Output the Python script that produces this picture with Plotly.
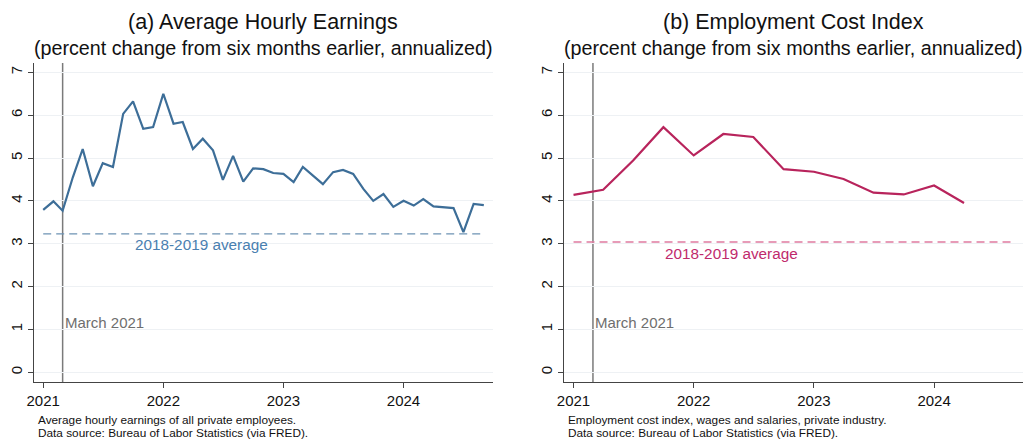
import plotly.graph_objects as go
import pandas as pd

# Average hourly earnings, 6-month annualized % change (monthly, Jan 2021 - Sep 2024)
ahe_months = pd.date_range("2021-01-01", "2024-09-01", freq="MS")
ahe_values = [3.79, 3.99, 3.77, 4.55, 5.21, 4.34, 4.88, 4.79, 6.03, 6.32, 5.68, 5.72,
              6.50, 5.80, 5.84, 5.21, 5.45, 5.18, 4.49, 5.05, 4.45, 4.76, 4.74, 4.65,
              4.63, 4.44, 4.79, 4.59, 4.39, 4.67, 4.72, 4.63, 4.28, 4.00, 4.16, 3.86,
              4.00, 3.89, 4.04, 3.87, 3.85, 3.83, 3.27, 3.93, 3.90]

# Employment cost index, wages & salaries, private industry (quarterly)
eci_quarters = pd.date_range("2021-01-01", "2024-04-01", freq="QS")
eci_values = [4.14, 4.26, 4.94, 5.72, 5.06, 5.56, 5.49, 4.74, 4.68, 4.51, 4.19, 4.15, 4.36, 3.95]

# 2018-2019 averages
ahe_avg = 3.23
eci_avg = 3.04
avg_span = ["2021-01-01", "2024-09-01"]
march_2021 = "2021-03-01"

titles = ["(a) Average Hourly Earnings", "(b) Employment Cost Index"]
subtitle = "(percent change from six months earlier, annualized)"
notes = [["Average hourly earnings of all private employees.",
          "Data source: Bureau of Labor Statistics (via FRED)."],
         ["Employment cost index, wages and salaries, private industry.",
          "Data source: Bureau of Labor Statistics (via FRED)."]]
year_ticks = ["2021-01-01", "2022-01-01", "2023-01-01", "2024-01-01"]
year_labels = ["2021", "2022", "2023", "2024"]
y_ticks = [0, 1, 2, 3, 4, 5, 6, 7]

W, H = 1026, 439
FONT = "Liberation Sans, Arial, Helvetica, sans-serif"

ahe_color = "#3d6e98"
ahe_dash = "#6d93b4"
ahe_text = "#4a80b0"
eci_color = "#b8245c"
eci_dash = "#e07ba0"
eci_text = "#c02a6c"
axis_color = "#444444"
grid_color = "#eef1f4"
vline_color = "#7a7a7a"

x_domains = [[34 / W, 492.7 / W], [564.3 / W, 1023.3 / W]]
y_domain = [1 - 382 / H, 1 - 63 / H]
x_range = ["2020-12-04", "2024-09-28"]
y_range = [-0.227, 7.217]

fig = go.Figure()

panels = [
    (ahe_months, ahe_values, ahe_avg, ahe_color, ahe_dash, ahe_text),
    (eci_quarters, eci_values, eci_avg, eci_color, eci_dash, eci_text),
]

for i, (xs, ys, avg, col, dcol, tcol) in enumerate(panels):
    xa = "x" if i == 0 else "x2"
    ya = "y" if i == 0 else "y2"
    fig.add_trace(go.Scatter(x=[avg_span[0], avg_span[1]], y=[avg, avg], mode="lines",
                             line=dict(color=dcol, width=1.3, dash="8px,5px"),
                             xaxis=xa, yaxis=ya, showlegend=False, hoverinfo="skip"))
    fig.add_trace(go.Scatter(x=xs, y=ys, mode="lines",
                             line=dict(color=col, width=2.2),
                             xaxis=xa, yaxis=ya, showlegend=False))
    # vertical reference line at March 2021
    fig.add_shape(type="line", xref=xa, yref=f"{ya} domain",
                  x0=march_2021, x1=march_2021, y0=0, y1=1,
                  line=dict(color=vline_color, width=1.5), layer="below")
    fig.add_annotation(xref=xa, yref=ya, x=march_2021, y=1.15, text="March 2021",
                       showarrow=False, xanchor="left", xshift=0,
                       font=dict(family=FONT, size=15, color="#6e6e6e"))
    fig.add_annotation(xref=xa, yref=ya, x="2021-10-01", y=avg, yshift=-11,
                       text="2018-2019 average", showarrow=False, xanchor="left",
                       font=dict(family=FONT, size=15.3, color=tcol))
    cx = (x_domains[i][0] + x_domains[i][1]) / 2
    fig.add_annotation(xref="paper", yref="paper", x=cx, y=1 - 22 / H,
                       text=titles[i], showarrow=False, xanchor="center", yanchor="middle",
                       font=dict(family=FONT, size=21.5, color="#111111"))
    fig.add_annotation(xref="paper", yref="paper", x=cx, y=1 - 48 / H,
                       text=subtitle, showarrow=False, xanchor="center", yanchor="middle",
                       font=dict(family=FONT, size=19.7, color="#111111"))
    for k, line in enumerate(notes[i]):
        fig.add_annotation(xref="paper", yref="paper", x=x_domains[i][0] + 2 / W,
                           y=1 - (420 + 12.7 * k) / H,
                           text=line, showarrow=False, xanchor="left", yanchor="middle",
                           font=dict(family=FONT, size=11.8, color="#111111"))

axis_common_x = dict(type="date", range=x_range, tickvals=year_ticks, ticktext=year_labels,
                     showgrid=False, showline=True, linecolor=axis_color, linewidth=1.2,
                     ticks="outside", ticklen=5, tickcolor=axis_color, tickwidth=1.2,
                     tickfont=dict(family=FONT, size=15, color="#111111"),
                     zeroline=False, automargin=False)
axis_common_y = dict(range=y_range, tickvals=y_ticks, showgrid=True, gridcolor=grid_color,
                     gridwidth=1.2, showline=True, linecolor=axis_color, linewidth=1.2,
                     ticks="outside", ticklen=5, tickcolor=axis_color, tickwidth=1.2,
                     tickangle=-90, tickfont=dict(family=FONT, size=15, color="#111111"),
                     zeroline=False, domain=y_domain, automargin=False)

fig.update_layout(
    width=W, height=H,
    margin=dict(l=0, r=0, t=0, b=0),
    paper_bgcolor="white", plot_bgcolor="white",
    xaxis=dict(axis_common_x, domain=x_domains[0], anchor="y"),
    yaxis=dict(axis_common_y, anchor="x"),
    xaxis2=dict(axis_common_x, domain=x_domains[1], anchor="y2"),
    yaxis2=dict(axis_common_y, anchor="x2"),
)

fig.write_html("out.html")
